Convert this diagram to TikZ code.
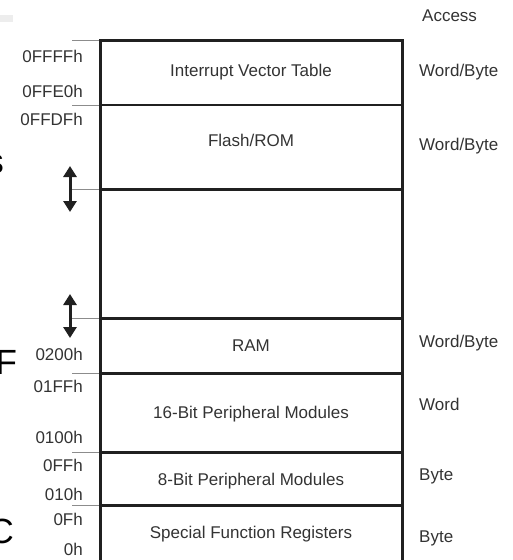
\documentclass[tikz,border=0pt]{standalone}
\usepackage{fontspec}
\setmainfont{Liberation Sans}
\usetikzlibrary{arrows.meta}
\definecolor{txtgray}{HTML}{333333}
\definecolor{tickgray}{HTML}{8C8C8C}
\definecolor{wallblack}{HTML}{202020}
\tikzset{
  lbl/.style={font=\fontsize{17}{19}\selectfont, text=txtgray, inner sep=0pt, anchor=base},
  addr/.style={lbl, anchor=base east},
  acc/.style={lbl, anchor=base west},
  wall/.style={line width=3pt, draw=wallblack},
  tick/.style={line width=1pt, draw=tickgray},
  gap/.style={line width=3pt, draw=wallblack, {Triangle[width=13pt,length=11pt]}-{Triangle[width=13pt,length=11pt]}},
  frag/.style={font=\fontsize{35}{35}\selectfont, text=black, inner sep=0pt}
}
\begin{document}
\begin{tikzpicture}[x=1pt,y=-1pt]
    \useasboundingbox (0,0) rectangle (512,560);
    \fill[black!7] (0,15) rectangle (13,22);                                        % Rest oben links
    \node[frag, anchor=base east] (fs) at (4,173)  {s};                            % Reste links
    \node[frag, anchor=base west] (ff) at (-4.5,374) {F};
    \node[frag, anchor=base east] (fc) at (14,543) {C};
    % Speicherblock
    \draw[wall, line join=miter] (100,570) -- (100,40) -- (402,40) -- (402,570);
    \draw[line width=2pt, draw=wallblack] (100,105) -- (402,105);
    \foreach \y in {189,318,373,452,505}
        \draw[wall] (100,\y) -- (402,\y);
    \foreach \y in {40,105,189,318,373,452,505}
        \draw[tick] (72,\y) -- (99,\y);                                            % Marken
    % Luecken-Pfeile
    \coordinate (g1top) at (70,166);  \coordinate (g1bot) at (70,212);
    \coordinate (g2top) at (70,294);  \coordinate (g2bot) at (70,338);
    \draw[gap] (g1top) -- (g1bot);
    \draw[gap] (g2top) -- (g2bot);
    % Bereiche
    \node[lbl] (ivt)   at (251,76)  {Interrupt Vector Table};
    \node[lbl] (flash) at (251,146) {Flash/ROM};
    \node[lbl] (ram)   at (251,351) {RAM};
    \node[lbl] (per16) at (251,418) {16-Bit Peripheral Modules};
    \node[lbl] (per8)  at (251,485) {8-Bit Peripheral Modules};
    \node[lbl] (sfr)   at (251,538) {Special Function Registers};
    % Adressen
    \node[addr] (a0ffff) at (83,62)  {0FFFFh};
    \node[addr] (a0ffe0) at (83,97)  {0FFE0h};
    \node[addr] (a0ffdf) at (83,125) {0FFDFh};
    \node[addr] (a0200)  at (83,360) {0200h};
    \node[addr] (a01ff)  at (83,392) {01FFh};
    \node[addr] (a0100)  at (83,443) {0100h};
    \node[addr] (a0ff)   at (83,471) {0FFh};
    \node[addr] (a010)   at (83,500) {010h};
    \node[addr] (a0f)    at (83,525) {0Fh};
    \node[addr] (a0)     at (83,555) {0h};
    % Zugriff
    \node[acc] (access) at (422,21)  {Access};
    \node[acc] (accivt) at (419,76)  {Word/Byte};
    \node[acc] (accfl)  at (419,150) {Word/Byte};
    \node[acc] (accram) at (419,347) {Word/Byte};
    \node[acc] (acc16)  at (419,410) {Word};
    \node[acc] (acc8)   at (419,480) {Byte};
    \node[acc] (accsfr) at (419,542) {Byte};
\end{tikzpicture}
\end{document}
